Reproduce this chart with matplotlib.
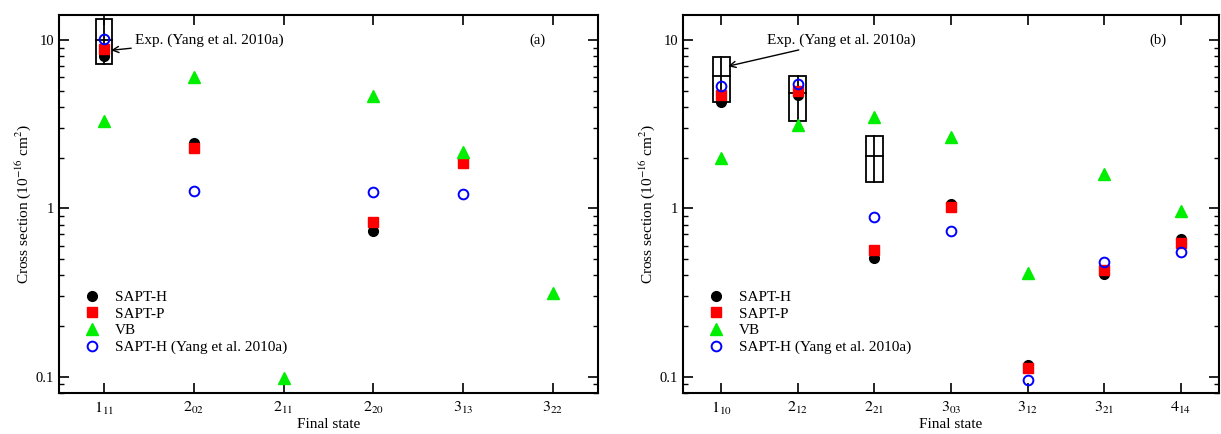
import numpy as np
import matplotlib
matplotlib.use("Agg")
import matplotlib.pyplot as plt
from matplotlib.patches import Rectangle
from matplotlib.ticker import LogLocator, NullFormatter, FixedLocator

plt.rcParams['font.family'] = ['Liberation Serif', 'DejaVu Serif']
plt.rcParams['mathtext.fontset'] = 'stix'

# ---- data panel (a) ----
labels_a = [r'$1_{11}$', r'$2_{02}$', r'$2_{11}$', r'$2_{20}$', r'$3_{13}$', r'$3_{22}$']
sapt_h_a = [8.0, 2.45, np.nan, 0.73, 1.97, np.nan]
sapt_p_a = [8.9, 2.28, np.nan, 0.83, 1.86, np.nan]
vb_a = [3.3, 6.0, 0.098, 4.65, 2.16, 0.315]
yang_a = [10.2, 1.27, np.nan, 1.26, 1.22, np.nan]
exp_idx_a = [0]
exp_val_a = [10.0]
exp_lo_a = [7.2]
exp_hi_a = [13.3]

# ---- data panel (b) ----
labels_b = [r'$1_{10}$', r'$2_{12}$', r'$2_{21}$', r'$3_{03}$', r'$3_{12}$', r'$3_{21}$', r'$4_{14}$']
sapt_h_b = [4.29, 4.7, 0.51, 1.06, 0.118, 0.41, 0.66]
sapt_p_b = [4.72, 5.0, 0.567, 1.02, 0.112, 0.43, 0.62]
vb_b = [2.0, 3.13, 3.49, 2.65, 0.414, 1.6, 0.966]
yang_b = [5.33, 5.48, 0.89, 0.73, 0.096, 0.48, 0.55]
exp_idx_b = [0, 1, 2]
exp_val_b = [6.1, 4.83, 2.05]
exp_lo_b = [4.29, 3.32, 1.43]
exp_hi_b = [7.93, 6.1, 2.69]

W, H = 1221, 434
fig = plt.figure(figsize=(W / 100, H / 100), dpi=100)
ax_a = fig.add_axes([59 / W, (H - 393) / H, (598 - 59) / W, (393 - 15) / H])
ax_b = fig.add_axes([683 / W, (H - 393) / H, (1219 - 683) / W, (393 - 15) / H])

FS = 11


def panel(ax, labels, sh, sp, vb, yg, eidx, ev, elo, ehi, halfw, tag, txt_xy, arrow_xy):
    x = np.arange(len(labels))
    ax.set_yscale('log')
    ax.plot(x, sh, 'o', color='black', ms=7, ls='none', label='SAPT-H', zorder=4)
    ax.plot(x, sp, 's', color='red', ms=6.5, ls='none', label='SAPT-P', zorder=4)
    ax.plot(x, vb, '^', color='#00ee00', ms=8, ls='none', label='VB', zorder=4)
    ax.plot(x, yg, 'o', mfc='none', mec='blue', mew=1.4, ms=7, ls='none',
            label='SAPT-H (Yang et al. 2010a)', zorder=5)
    for i, v, lo, hi in zip(eidx, ev, elo, ehi):
        ax.add_patch(Rectangle((i - halfw, lo), 2 * halfw, hi - lo, fill=False,
                               ec='black', lw=1.3, zorder=3))
        ax.plot([i, i], [lo, hi], color='black', lw=1.3, zorder=3)
        ax.plot([i - halfw, i + halfw], [v, v], color='black', lw=1.3, zorder=3)
    ax.set_xlim(-0.5, len(labels) - 0.5)
    ax.set_ylim(0.08, 14.1)
    ax.xaxis.set_major_locator(FixedLocator(x))
    ax.set_xticklabels(labels, fontsize=11.5)
    ax.yaxis.set_minor_locator(LogLocator(base=10, subs=np.arange(2, 10)))
    ax.yaxis.set_minor_formatter(NullFormatter())
    ax.set_yticks([0.1, 1, 10])
    ax.set_yticklabels(['0.1', '1', '10'], fontsize=10.5)
    ax.tick_params(which='major', direction='in', length=7, width=1.2,
                   top=True, right=True)
    ax.tick_params(which='minor', direction='in', length=3.5, width=1.0,
                   top=False, right=True)
    ax.tick_params(axis='x', which='major', pad=5)
    for s in ax.spines.values():
        s.set_linewidth(1.5)
    ax.set_xlabel('Final state', fontsize=11, labelpad=1)
    ax.set_ylabel(r'Cross section (10$^{-16}$ cm$^{2}$)', fontsize=11, labelpad=2)
    ax.text(0.887, 0.934, tag, transform=ax.transAxes, fontsize=10.5, ha='center', va='center')
    ax.annotate('Exp. (Yang et al. 2010a)', xy=arrow_xy, xytext=txt_xy,
                fontsize=FS, va='center', ha='left',
                arrowprops=dict(arrowstyle='->', color='black', lw=1.0,
                                shrinkA=1, shrinkB=0))
    ax.legend(loc='center left', bbox_to_anchor=(0.036, 0.187), frameon=False,
              fontsize=FS, handlelength=1.0, handletextpad=1.0, labelspacing=0.2,
              borderaxespad=0, markerscale=1.0)


panel(ax_a, labels_a, sapt_h_a, sapt_p_a, vb_a, yang_a, exp_idx_a, exp_val_a,
      exp_lo_a, exp_hi_a, 0.09, '(a)', (0.35, 10.0), (0.08, 8.7))
panel(ax_b, labels_b, sapt_h_b, sapt_p_b, vb_b, yang_b, exp_idx_b, exp_val_b,
      exp_lo_b, exp_hi_b, 0.11, '(b)', (0.6, 10.0), (0.09, 7.0))

fig.savefig('out.png', dpi=100)
